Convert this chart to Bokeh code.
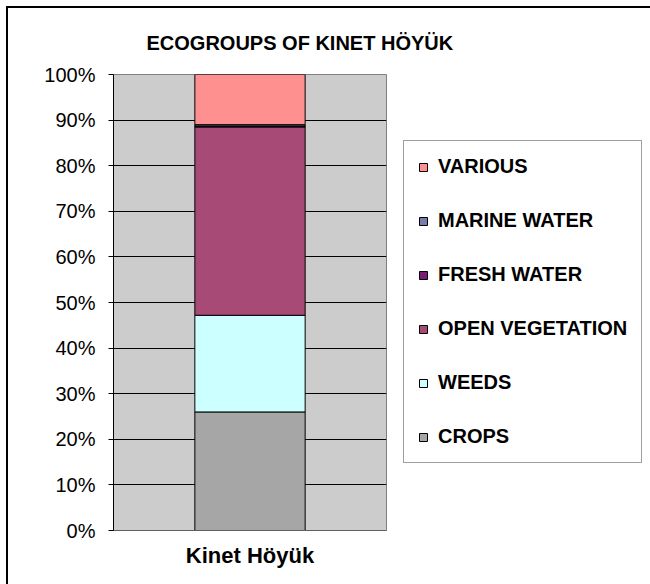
from bokeh.plotting import figure
from bokeh.layouts import row
from bokeh.models import (FactorRange, Range1d, FixedTicker, PrintfTickFormatter,
                          Legend, LegendItem, ColumnDataSource, InlineStyleSheet)
from bokeh.embed import file_html
from bokeh.resources import INLINE

# ---- data ----
sites = ["Kinet Höyük"]
groups = ["CROPS", "WEEDS", "OPEN VEGETATION", "FRESH WATER", "MARINE WATER", "VARIOUS"]
crops = [26.0]
weeds = [21.2]
open_vegetation = [41.3]
fresh_water = [0.2]
marine_water = [0.3]
various = [11.0]
y_ticks = [0, 10, 20, 30, 40, 50, 60, 70, 80, 90, 100]

colors = ["#a6a6a6", "#ccffff", "#a84a76", "#781c78", "#7b7bab", "#ff9090"]
keys = ["crops", "weeds", "open_veg", "fresh", "marine", "various"]

source = ColumnDataSource(dict(site=sites, crops=crops, weeds=weeds,
                               open_veg=open_vegetation, fresh=fresh_water,
                               marine=marine_water, various=various))

FONT = "Liberation Sans"

# ---- main chart ----
p = figure(width=650, height=584,
           x_range=FactorRange(factors=sites, range_padding=0),
           y_range=Range1d(0, 100),
           output_backend="svg", toolbar_location=None,
           min_border_left=113, min_border_top=74,
           min_border_right=264, min_border_bottom=54)

p.background_fill_color = "#cccccc"
p.border_fill_color = None
p.outline_line_color = "#808080"

renderers = p.vbar_stack(keys, x="site", width=0.404, color=colors,
                         line_color="black", line_width=1, source=source)

# title
p.title.text = "ECOGROUPS OF KINET HÖYÜK"
p.title.align = "left"
p.title.offset = 33
p.title.vertical_align = "top"
p.title.standoff = 38
p.title.text_font = FONT
p.title.text_font_size = "20px"
p.title.text_font_style = "bold"
p.title.text_color = "black"

# y axis
p.yaxis.ticker = FixedTicker(ticks=y_ticks)
p.yaxis.formatter = PrintfTickFormatter(format="%d%%")
p.yaxis.major_label_text_font = FONT
p.yaxis.major_label_text_font_size = "20px"
p.yaxis.major_label_text_color = "black"
p.yaxis.major_tick_out = 5
p.yaxis.major_tick_in = 0
p.yaxis.minor_tick_line_color = None
p.yaxis.axis_line_color = "black"
p.yaxis.major_tick_line_color = "black"
p.yaxis.major_label_standoff = 13

# x axis
p.xaxis.major_label_text_font = FONT
p.xaxis.major_label_text_font_size = "22px"
p.xaxis.major_label_text_font_style = "bold"
p.xaxis.major_label_text_color = "black"
p.xaxis.major_tick_line_color = None
p.xaxis.minor_tick_line_color = None
p.xaxis.axis_line_color = "#606060"
p.xaxis.major_label_standoff = 6

# grid
p.ygrid.ticker = FixedTicker(ticks=y_ticks)
p.ygrid.grid_line_color = "black"
p.ygrid.grid_line_width = 1
p.xgrid.grid_line_color = None

# ---- legend overlay (transparent figure laid over the right part) ----
# its copy of the bars sits entirely behind the opaque legend box
q = figure(width=263, height=584,
           x_range=FactorRange(factors=sites, range_padding=0),
           y_range=Range1d(-60, 160),
           x_axis_location=None, y_axis_location=None,
           output_backend="svg", toolbar_location=None,
           min_border=0)
q.background_fill_color = None
q.border_fill_color = None
q.outline_line_color = None
q.grid.grid_line_color = None
q_renderers = q.vbar_stack(keys, x="site", width=0.404, color=colors,
                           line_color="black", line_width=1, source=source)

items = [LegendItem(label=g, renderers=[r]) for g, r in zip(groups, q_renderers)][::-1]
legend = Legend(items=items, location=(16, 67), orientation="vertical",
                glyph_width=10, glyph_height=10, label_height=10,
                spacing=31, padding=14, margin=0, label_standoff=10,
                label_text_font=FONT, label_text_font_style="bold",
                label_text_font_size="20px", label_text_color="black",
                border_line_color="#404040", border_line_width=1,
                background_fill_color="white", background_fill_alpha=1)
q.add_layout(legend)
q.styles = {"margin-left": "-263px"}

layout = row(p, q, spacing=0)
layout.stylesheets = [InlineStyleSheet(css=(
    ":host { background: "
    "linear-gradient(#000, #000) 6px 6px / 2px 100% no-repeat, "
    "linear-gradient(#000, #000) 6px 6px / 100% 2px no-repeat, #fff; }"))]

open("out.html", "w").write(file_html(layout, INLINE))
